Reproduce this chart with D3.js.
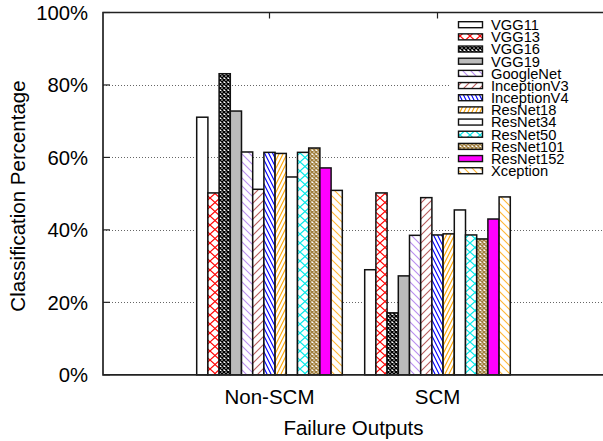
<!DOCTYPE html>
<html>
<head>
<meta charset="utf-8">
<script src="https://cdn.jsdelivr.net/npm/d3@7"></script>
<style>
  body { margin: 0; background: #fff; }
  text { font-family: "Liberation Sans", Arial, sans-serif; fill: #000; }
</style>
</head>
<body>
<svg id="chart" width="603" height="441"></svg>
<script>
// data
var categories = ['Non-SCM', 'SCM'];
var models = ['VGG11', 'VGG13', 'VGG16', 'VGG19', 'GoogleNet', 'InceptionV3', 'InceptionV4',
  'ResNet18', 'ResNet34', 'ResNet50', 'ResNet101', 'ResNet152', 'Xception'];
var nonScm = [71.1, 50.2, 83.1, 72.8, 61.5, 51.2, 61.4, 61.1, 54.6, 61.4, 62.6, 57.1, 50.9];
var scm    = [29.0, 50.2, 17.1, 27.3, 38.5, 48.9, 38.6, 38.9, 45.5, 38.6, 37.5, 43.0, 49.1];
var yTicks = [0, 20, 40, 60, 80, 100];

// gnuplot-like fill styles: [pattern kind, colour]
var styles = [
  ['empty', '#000000'],
  ['cross', '#ff0000'],
  ['fine', '#000000'],
  ['solid', '#bbbbbb'],
  ['back', '#b98ef0'],
  ['fwd', '#b85c5c'],
  ['steepBack', '#0000ff'],
  ['steepFwd', '#ffa500'],
  ['empty', '#000000'],
  ['cross', '#00e8e8'],
  ['fine', '#a07e3c'],
  ['solid', '#ff00ff'],
  ['back', '#ffb733']
];

(function () {
var svg = d3.select('#chart');
var plotLeft = 103, plotTop = 12.5, plotBottom = 374.8, plotRight = 606;

var xScale = d3.scaleLinear().domain([-1, 2]).range([101.5, 605.5]);
var yScale = d3.scaleLinear().domain([0, 100]).range([plotBottom, plotTop]);

// patterns
var defs = svg.append('defs');
styles.forEach(function (s, i) {
  var kind = s[0], c = s[1];
  if (kind == 'empty' || kind == 'solid') return;
  var p = defs.append('pattern').attr('id', 'pat' + i)
    .attr('patternUnits', 'userSpaceOnUse');
  if (kind == 'cross') {
    p.attr('width', 10).attr('height', 9);
    p.append('rect').attr('width', 10).attr('height', 9).attr('fill', '#fff');
    p.append('path').attr('d', 'M0,0L10,9M10,0L0,9')
      .attr('stroke', c).attr('stroke-width', 1.2).attr('fill', 'none');
  } else if (kind == 'fine') {
    p.attr('width', 4).attr('height', 4);
    p.append('rect').attr('width', 4).attr('height', 4).attr('fill', '#fff');
    p.append('path').attr('d', 'M0,0L4,4M4,0L0,4')
      .attr('stroke', c).attr('stroke-width', 1.5).attr('fill', 'none');
  } else if (kind == 'back' || kind == 'fwd') {
    p.attr('width', 8).attr('height', 8);
    p.append('rect').attr('width', 8).attr('height', 8).attr('fill', '#fff');
    var d = kind == 'back' ? 'M-2,-2L10,10M-2,6L2,10M6,-2L10,2' : 'M-2,10L10,-2M-2,2L2,-2M6,10L10,6';
    p.append('path').attr('d', d)
      .attr('stroke', c).attr('stroke-width', 1.1).attr('fill', 'none');
  } else {
    p.attr('width', 4).attr('height', 8);
    p.append('rect').attr('width', 4).attr('height', 8).attr('fill', '#fff');
    var d2 = kind == 'steepBack' ? 'M-1,-2L5,10M-3,2L1,10M3,-2L7,6' : 'M-1,10L5,-2M-3,6L1,-2M3,10L7,2';
    p.append('path').attr('d', d2)
      .attr('stroke', c).attr('stroke-width', 1.1).attr('fill', 'none');
  }
});

function fillOf(i) {
  var s = styles[i];
  if (s[0] == 'empty') return '#fff';
  if (s[0] == 'solid') return s[1];
  return 'url(#pat' + i + ')';
}

// grid lines
svg.append('g').selectAll('line')
  .data(yTicks.filter(function (t) { return t > 0 && t < 100; }))
  .enter().append('line')
  .attr('x1', plotLeft).attr('x2', plotRight)
  .attr('y1', function (d) { return Math.round(yScale(d)) + 0.5; })
  .attr('y2', function (d) { return Math.round(yScale(d)) + 0.5; })
  .attr('stroke', '#666').attr('stroke-width', 1)
  .attr('stroke-dasharray', '1,2');

// ticks (inward)
var tickG = svg.append('g').attr('stroke', '#222').attr('stroke-width', 1.2);
yTicks.forEach(function (t) {
  tickG.append('line').attr('x1', plotLeft).attr('x2', plotLeft + 7)
    .attr('y1', yScale(t)).attr('y2', yScale(t));
});
categories.forEach(function (c, ci) {
  tickG.append('line').attr('x1', xScale(ci)).attr('x2', xScale(ci))
    .attr('y1', plotTop).attr('y2', plotTop + 6);
  tickG.append('line').attr('x1', xScale(ci)).attr('x2', xScale(ci))
    .attr('y1', plotBottom).attr('y2', plotBottom - 6);
});

// bars
var barUnit = 1 / 15;
var seriesVals = [nonScm, scm];
var barG = svg.append('g');
seriesVals.forEach(function (vals, ci) {
  vals.forEach(function (v, i) {
    var xc = ci + (i - (models.length - 1) / 2) * barUnit;
    var x0 = xScale(xc - barUnit / 2), x1 = xScale(xc + barUnit / 2);
    barG.append('rect')
      .attr('x', x0).attr('width', x1 - x0)
      .attr('y', yScale(v)).attr('height', yScale(0) - yScale(v))
      .attr('fill', fillOf(i))
      .attr('stroke', '#111').attr('stroke-width', 1.5);
  });
});

// legend
var legX = 449, legY0 = 24.7, legStep = 12.17;
svg.append('rect').attr('x', legX).attr('y', plotTop + 1)
  .attr('width', plotRight - legX).attr('height', 166).attr('fill', '#fff');
var legG = svg.append('g');
models.forEach(function (m, i) {
  var y = legY0 + i * legStep;
  legG.append('rect').attr('x', 458.5).attr('y', y - 3)
    .attr('width', 24).attr('height', 6)
    .attr('fill', fillOf(i)).attr('stroke', '#111').attr('stroke-width', 1.4);
  legG.append('text').attr('x', 491).attr('y', y)
    .attr('dy', '0.36em').style('font-size', '14.7px').text(m);
});

// frame
svg.append('path')
  .attr('d', 'M' + plotRight + ',' + plotTop + 'H' + plotLeft + 'V' + plotBottom + 'H' + plotRight + 'V' + plotTop)
  .attr('fill', 'none').attr('stroke', '#222').attr('stroke-width', 1.7);

// tick labels
svg.append('g').selectAll('text').data(yTicks).enter().append('text')
  .attr('x', 88).attr('y', function (d) { return yScale(d); })
  .attr('dy', '0.36em').attr('text-anchor', 'end')
  .style('font-size', '20.3px')
  .text(function (d) { return d + '%'; });

svg.append('g').selectAll('text').data(categories).enter().append('text')
  .attr('x', function (d, i) { return xScale(i); }).attr('y', 404.3)
  .attr('text-anchor', 'middle').style('font-size', '20.5px')
  .text(function (d) { return d; });

// axis titles
svg.append('text').attr('x', 353.5).attr('y', 435)
  .attr('text-anchor', 'middle').style('font-size', '20.5px')
  .text('Failure Outputs');
svg.append('text')
  .attr('transform', 'translate(24.5,196) rotate(-90)')
  .attr('text-anchor', 'middle').style('font-size', '20.5px')
  .text('Classification Percentage');
})();
</script>
</body>
</html>
